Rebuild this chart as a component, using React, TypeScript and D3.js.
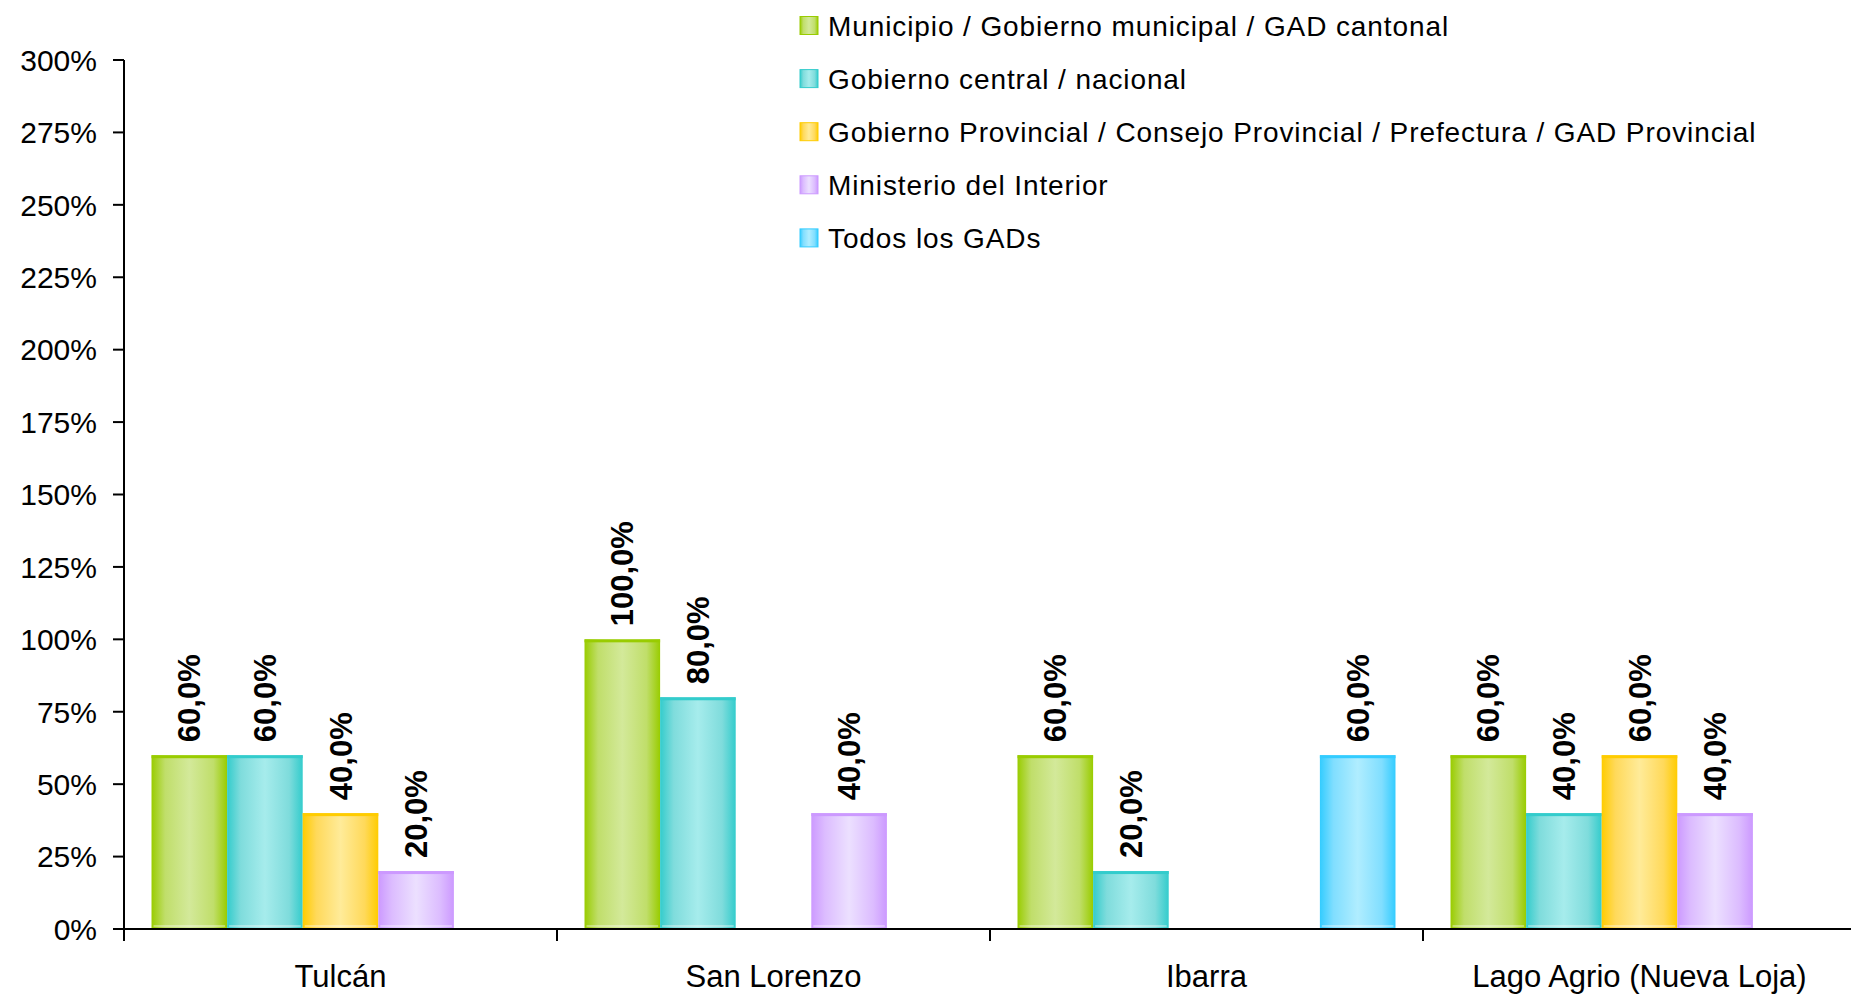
import * as d3 from "d3"

const categories = ["Tulcán", "San Lorenzo", "Ibarra", "Lago Agrio (Nueva Loja)"]
const seriesNames = [
  "Municipio / Gobierno municipal / GAD cantonal",
  "Gobierno central / nacional",
  "Gobierno Provincial / Consejo Provincial / Prefectura / GAD Provincial",
  "Ministerio del Interior",
  "Todos los GADs",
]
const municipio = [60, 100, 60, 60]
const central = [60, 80, 20, 40]
const provincial = [40, 0, 0, 60]
const ministerio = [20, 40, 0, 40]
const todos = [0, 0, 60, 0]
const yTicks = [0, 25, 50, 75, 100, 125, 150, 175, 200, 225, 250, 275, 300]

const seriesValues = [municipio, central, provincial, ministerio, todos]
// edge / mid / light centre colour of each bar gradient
const palette = [
  { edge: "#99cc00", mid: "#c0de6a", light: "#d3e99a" },
  { edge: "#33cccc", mid: "#7fdcdc", light: "#a6ecec" },
  { edge: "#ffcc00", mid: "#ffd95a", light: "#ffeb99" },
  { edge: "#cc99ff", mid: "#dcbcff", light: "#ece0ff" },
  { edge: "#33ccff", mid: "#80deff", light: "#b0edff" },
]

const W = 1851
const H = 996
const font = "'Liberation Sans', Arial, sans-serif"

export default function App() {
  const left = 124
  const top = 60
  const bottom = 929

  const x = d3.scaleBand<string>().domain(categories).range([left, left + 433 * 4]).padding(0)
  const inner = d3
    .scaleBand<number>()
    .domain(d3.range(seriesNames.length))
    .range([0, x.bandwidth()])
    .paddingInner(0)
    .paddingOuter(0.364)
  const y = d3.scaleLinear().domain([0, 300]).range([bottom, top])

  const fmt = (v: number) => d3.format(".1f")(v).replace(".", ",") + "%"

  return (
    <div style={{ position: "absolute", left: 0, top: 0 }}>
      <svg width={W} height={H} style={{ display: "block", background: "#fff" }}>
        <defs>
          {palette.map((p, i) => (
            <linearGradient key={i} id={`g${i}`} x1="0" x2="1" y1="0" y2="0">
              <stop offset="0%" stopColor={p.edge} />
              <stop offset="18%" stopColor={p.mid} />
              <stop offset="50%" stopColor={p.light} />
              <stop offset="82%" stopColor={p.mid} />
              <stop offset="100%" stopColor={p.edge} />
            </linearGradient>
          ))}
        </defs>

        {/* y axis */}
        <line x1={left} x2={left} y1={top} y2={bottom + 12} stroke="#000" strokeWidth={2} />
        {yTicks.map((t) => (
          <g key={t}>
            <line x1={left - 11} x2={left} y1={y(t)} y2={y(t)} stroke="#000" strokeWidth={2} />
            <text
              x={97}
              y={y(t)}
              dy="0.36em"
              textAnchor="end"
              fontFamily={font}
              fontSize={30}
              fill="#000"
            >
              {t}%
            </text>
          </g>
        ))}

        {/* bars */}
        {categories.map((c, ci) =>
          seriesValues.map((vals, si) => {
            const v = vals[ci]
            if (!v) return null
            const bx = (x(c) ?? 0) + (inner(si) ?? 0)
            const bw = inner.bandwidth()
            const by = y(v)
            const cx = bx + bw / 2
            return (
              <g key={`${ci}-${si}`}>
                <rect x={bx} y={by} width={bw} height={bottom - by} fill={`url(#g${si})`} />
                <rect x={bx} y={by} width={bw} height={3} fill={palette[si].edge} />
                <line x1={bx + 2} x2={bx + bw - 2} y1={bottom - 3} y2={bottom - 3} stroke="#fff" strokeOpacity={0.7} />
                <text
                  transform={`translate(${cx},${by - 13}) rotate(-90)`}
                  dy="0.36em"
                  textAnchor="start"
                  fontFamily={font}
                  fontWeight="bold"
                  fontSize={31}
                  fill="#000"
                >
                  {fmt(v)}
                </text>
              </g>
            )
          })
        )}

        {/* x axis */}
        <line x1={left} x2={left + 433 * 4} y1={bottom} y2={bottom} stroke="#000" strokeWidth={2} />
        {categories.map((c) => (
          <line key={c} x1={x(c)} x2={x(c)} y1={bottom} y2={bottom + 12} stroke="#000" strokeWidth={2} />
        ))}
        {categories.map((c) => (
          <text
            key={c}
            x={(x(c) ?? 0) + x.bandwidth() / 2}
            y={987}
            textAnchor="middle"
            fontFamily={font}
            fontSize={31}
            fill="#000"
          >
            {c}
          </text>
        ))}

        {/* legend */}
        {seriesNames.map((name, i) => {
          const ly = 25.5 + i * 53.1
          return (
            <g key={name}>
              <rect x={800} y={ly - 9} width={18} height={18} fill={`url(#g${i})`} stroke={palette[i].edge} strokeWidth={1} />
              <text
                x={828}
                y={ly}
                dy="0.36em"
                fontFamily={font}
                fontSize={28}
                letterSpacing={0.9}
                fill="#000"
              >
                {name}
              </text>
            </g>
          )
        })}
      </svg>
    </div>
  )
}
